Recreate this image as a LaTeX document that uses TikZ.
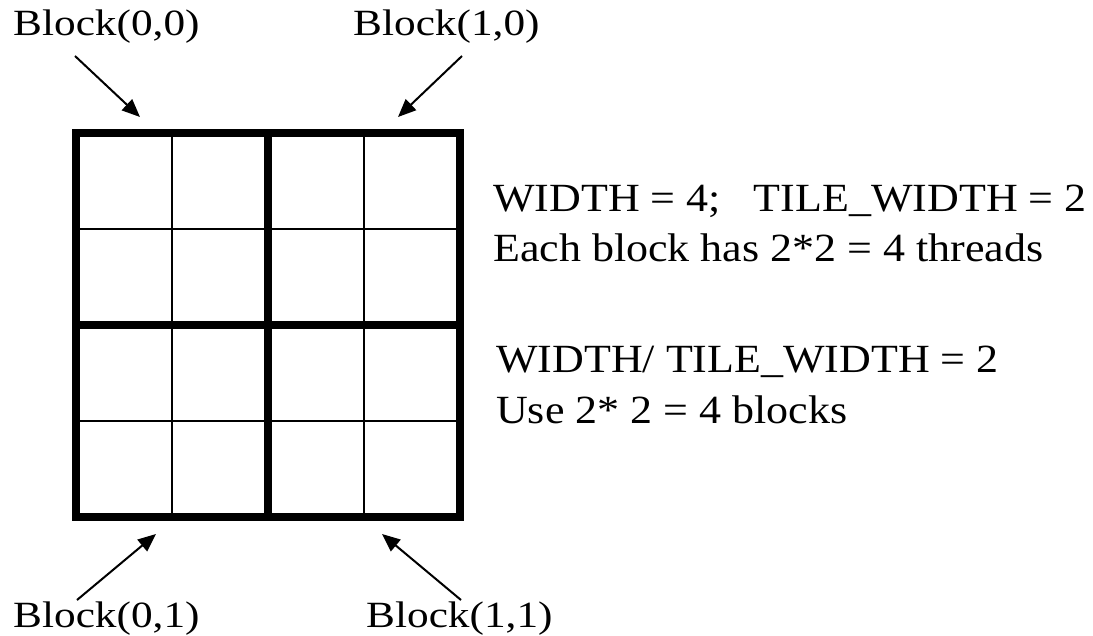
\documentclass[tikz,border=0pt]{standalone}
\usepackage{fontspec}
\setmainfont{Liberation Serif}
\usetikzlibrary{arrows.meta}
\tikzset{
  blocklbl/.style={anchor=base west, inner sep=0pt, font=\fontsize{37}{42}\selectfont},
  infolbl/.style={anchor=base west, inner sep=0pt, font=\fontsize{40}{46}\selectfont},
  thickln/.style={line width=8pt, line cap=rect, line join=miter},
  thinln/.style={line width=2pt},
  arr/.style={line width=2pt, -{Triangle[length=18pt,width=15pt]}}
}
\newcommand{\wideb}[1]{\scalebox{1.17}[1]{#1}}
\newcommand{\widei}[1]{\scalebox{1.1}[1]{#1}}
\begin{document}
\begin{tikzpicture}[x=1pt,y=-1pt]
\useasboundingbox (0,0) rectangle (1093,636);
% grid thin lines
\foreach \v in {172,364} {
  \draw[thinln] (\v,133) -- (\v,517);
}
\foreach \v in {229,421} {
  \draw[thinln] (76,\v) -- (460,\v);
}
% thick lines
\draw[thickln] (268,133) -- (268,517);
\draw[thickln] (76,325) -- (460,325);
\draw[thickln] (76,133) rectangle (460,517);
% labels
\node[blocklbl] (b00) at (13,36) {\wideb{Block(0,0)}};
\node[blocklbl] (b10) at (353,36) {\wideb{Block(1,0)}};
\node[blocklbl] (b01) at (13,627) {\wideb{Block(0,1)}};
\node[blocklbl] (b11) at (366,627) {\wideb{Block(1,1)}};
% arrow ends
\coordinate (s00) at (75,56);  \coordinate (t00) at (140,117);
\coordinate (s10) at (462,56); \coordinate (t10) at (398,117);
\coordinate (s01) at (77,600); \coordinate (t01) at (156,534);
\coordinate (s11) at (461,600);\coordinate (t11) at (382,534);
\draw[arr] (s00) -- (t00);
\draw[arr] (s10) -- (t10);
\draw[arr] (s01) -- (t01);
\draw[arr] (s11) -- (t11);
% info text
\node[infolbl] (i1) at (493,212) {\widei{WIDTH = 4;\ \ \ TILE\_WIDTH = 2}};
\node[infolbl] (i2) at (493,262) {\widei{Each block has 2*2 = 4 threads}};
\node[infolbl] (i3) at (496,373) {\widei{WIDTH/ TILE\_WIDTH = 2}};
\node[infolbl] (i4) at (496,424) {\widei{Use 2* 2 = 4 blocks}};
\end{tikzpicture}
\end{document}
